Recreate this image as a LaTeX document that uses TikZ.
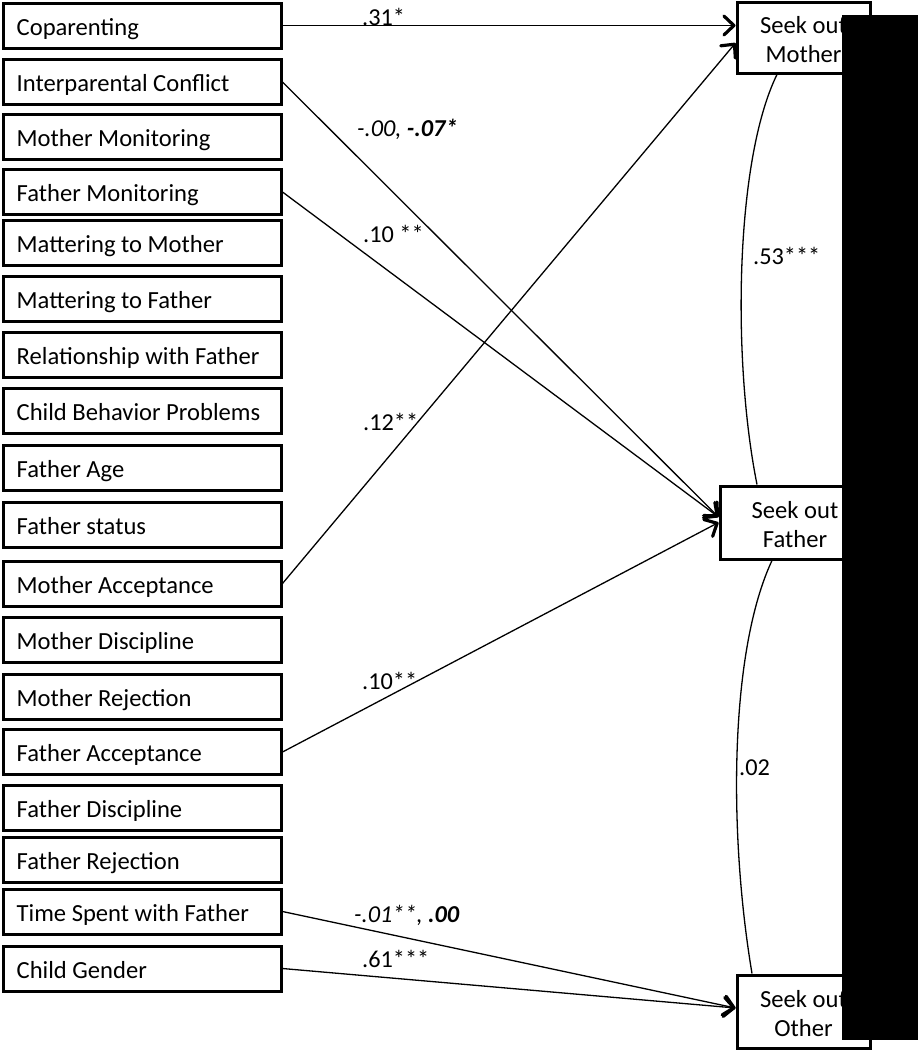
\documentclass[tikz,border=0pt]{standalone}
\usepackage{fontspec}
\setmainfont{Carlito}
\usetikzlibrary{arrows.meta}
\begin{document}
\begin{tikzpicture}[x=1pt,y=-1pt,
  lbox/.style={draw, line width=3pt, minimum width=278pt, minimum height=45pt, inner sep=0pt},
  ltxt/.style={anchor=base west, inner sep=0pt, font=\fontsize{24.6}{29}\selectfont},
  rbox/.style={draw, line width=3pt, inner sep=0pt},
  rtxt/.style={align=center, inner sep=0pt, font=\fontsize{24.6}{29}\selectfont},
  conn/.style={line width=1.3pt},
  arr/.style={line width=1.3pt, -{Straight Barb[length=10pt,width=19pt,line width=3.2pt,round]}},
  lab/.style={anchor=base west, inner sep=0pt, font=\fontsize{24.3}{29}\selectfont}
]
\useasboundingbox (0,0) rectangle (918,1050);

\foreach \n/\y/\t in {1/25.5/Coparenting, 2/82/Interparental Conflict, 3/137/Mother Monitoring,
  4/192/Father Monitoring, 5/242.5/Mattering to Mother, 6/298.5/Mattering to Father,
  7/355/Relationship with Father, 8/411/Child Behavior Problems, 9/467.5/Father Age,
  10/525/Father status, 11/583.5/Mother Acceptance, 12/640/Mother Discipline,
  13/696.5/Mother Rejection, 14/752/Father Acceptance, 15/807.5/Father Discipline,
  16/859.5/Father Rejection, 17/911.5/Time Spent with Father, 18/968.5/Child Gender}{
  \node[lbox] (b\n) at (142,\y) {};
  \node[ltxt] (t\n) at ([xshift=15pt,yshift=-9.5pt]b\n.west) {\t};
}

\node[rbox, minimum width=133pt, minimum height=71pt] (mother) at (803.5,37.5) {};
\node[rtxt] (mothertxt) at ([yshift=-2.5pt]mother.center) {Seek out\\Mother};
\node[rbox, minimum width=150pt, minimum height=73pt] (father) at (795,522.5) {};
\node[rtxt] (fathertxt) at ([yshift=-2pt]father.center) {Seek out\\Father};
\node[rbox, minimum width=133pt, minimum height=73pt] (other) at (803.5,1011.5) {};
\node[rtxt] (othertxt) at ([yshift=-2pt]other.center) {Seek out\\Other};

\draw[arr] (b1.east) -- (b1.east -| mother.west);
\draw[arr] (b2.east) -- ([yshift=5.5pt]father.west);
\draw[arr] (b4.east) -- ([yshift=5.5pt]father.west);
\draw[arr] (b11.east) -- ([yshift=-5.5pt]mother.west);
\draw[arr] (b14.east) -- (father.west);
\draw[arr] (b17.east) -- ([yshift=3.5pt]other.west);
\draw[arr] (b18.east) -- ([yshift=3.5pt]other.west);

\draw[conn] ([xshift=-26.5pt]mother.south) .. controls (735,160) and (732,360) .. ([xshift=-38pt]father.north);
\draw[conn] ([xshift=-23pt]father.south) .. controls (730,650) and (728,830) .. ([xshift=-51.5pt]other.north);

\node[lab] (l1) at (362,25)  {.31*};
\node[lab] (l2) at (357,136) {\itshape -.00, \bfseries -.07*};
\node[lab] (l3) at (363,242) {.10 **};
\node[lab] (l4) at (363,430) {.12**};
\node[lab] (l5) at (362,689) {.10**};
\node[lab] (l6) at (354,922) {\itshape -.01**, \bfseries .00};
\node[lab] (l7) at (362,967) {.61***};
\node[lab] (l8) at (753,264) {.53***};
\node[lab] (l9) at (739,775) {.02};

\fill[black] (842,15) rectangle (918,1040);
\end{tikzpicture}
\end{document}
